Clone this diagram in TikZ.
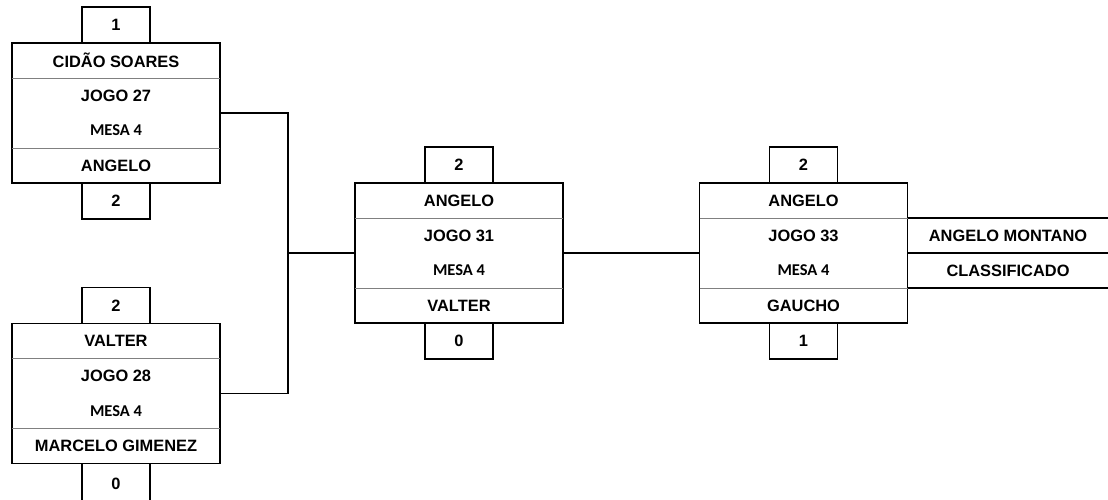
\documentclass[tikz,border=0pt]{standalone}
\usepackage{fontspec}
\setmainfont{Liberation Sans}
\newfontfamily\mesafont{Carlito}
\usetikzlibrary{matrix,positioning}

\begin{document}
\begin{tikzpicture}[x=1pt,y=-1pt,line width=1.8pt,
    every node/.style={font=\bfseries\fontsize{16.4}{18}\selectfont},
    jogo/.style={matrix of nodes,draw,inner sep=0pt,outer sep=0pt,row sep=0pt,
      nodes={minimum width=208pt,minimum height=35pt,inner sep=0pt,outer sep=0pt}},
    mesa/.style={font=\mesafont\bfseries\fontsize{16.5}{18}\selectfont},
    placar/.style={draw,minimum width=68pt,minimum height=36pt,inner sep=0pt,outer sep=0pt},
    divisa/.style={draw=gray,line width=0.8pt},
    saida/.style={line width=1.3pt}]

    \useasboundingbox (0,0) rectangle (1108,499);

    \matrix (mA) [jogo] at (116,113)
    {
      CIDÃO SOARES \\
      JOGO 27 \\
      |[mesa]| MESA 4 \\
      ANGELO \\
    };

    \matrix (mB) [jogo] at (116,393.5)
    {
      VALTER \\
      JOGO 28 \\
      |[mesa]| MESA 4 \\
      MARCELO GIMENEZ \\
    };

    \matrix (mC) [jogo] at (459,253)
    {
      ANGELO \\
      JOGO 31 \\
      |[mesa]| MESA 4 \\
      VALTER \\
    };

    \matrix (mD) [jogo] at (803.5,253)
    {
      ANGELO \\
      JOGO 33 \\
      |[mesa]| MESA 4 \\
      GAUCHO \\
    };

    \draw[divisa](mA-1-1.south west)--(mA-1-1.south east);
    \draw[divisa](mA-3-1.south west)--(mA-3-1.south east);
    \draw[divisa](mB-1-1.south west)--(mB-1-1.south east);
    \draw[divisa](mB-3-1.south west)--(mB-3-1.south east);
    \draw[divisa](mC-1-1.south west)--(mC-1-1.south east);
    \draw[divisa](mC-3-1.south west)--(mC-3-1.south east);
    \draw[divisa](mD-1-1.south west)--(mD-1-1.south east);
    \draw[divisa](mD-3-1.south west)--(mD-3-1.south east);

    \node (pA1) [placar,above=0pt of mA] {1};
    \node (pA2) [placar,below=0pt of mA] {2};
    \node (pB1) [placar,above=0pt of mB] {2};
    \node (pB2) [placar,minimum height=40pt,below=0pt of mB] {0};
    \node (pC1) [placar,above=0pt of mC] {2};
    \node (pC2) [placar,below=0pt of mC] {0};
    \node (pD1) [placar,above=0pt of mD] {2};
    \node (pD2) [placar,below=0pt of mD] {1};

    \coordinate (juncao) at (288,253);
    \draw(mA.east) -| (juncao) |- (mB.east);
    \draw(juncao)--(mC.west);
    \draw(mC.east)--(mD.west);

    \coordinate (fimA) at (1108,218);
    \coordinate (fimB) at (1108,253);
    \coordinate (fimC) at (1108,288);
    \draw[saida](mD-1-1.south east)--(fimA);
    \draw(mD.east)--(fimB);
    \draw[saida](mD-3-1.south east)--(fimC);

    \node (campeao) at (1008,236) {ANGELO MONTANO};
    \node (classif) at (1008,271) {CLASSIFICADO};
  \end{tikzpicture}
\end{document}
